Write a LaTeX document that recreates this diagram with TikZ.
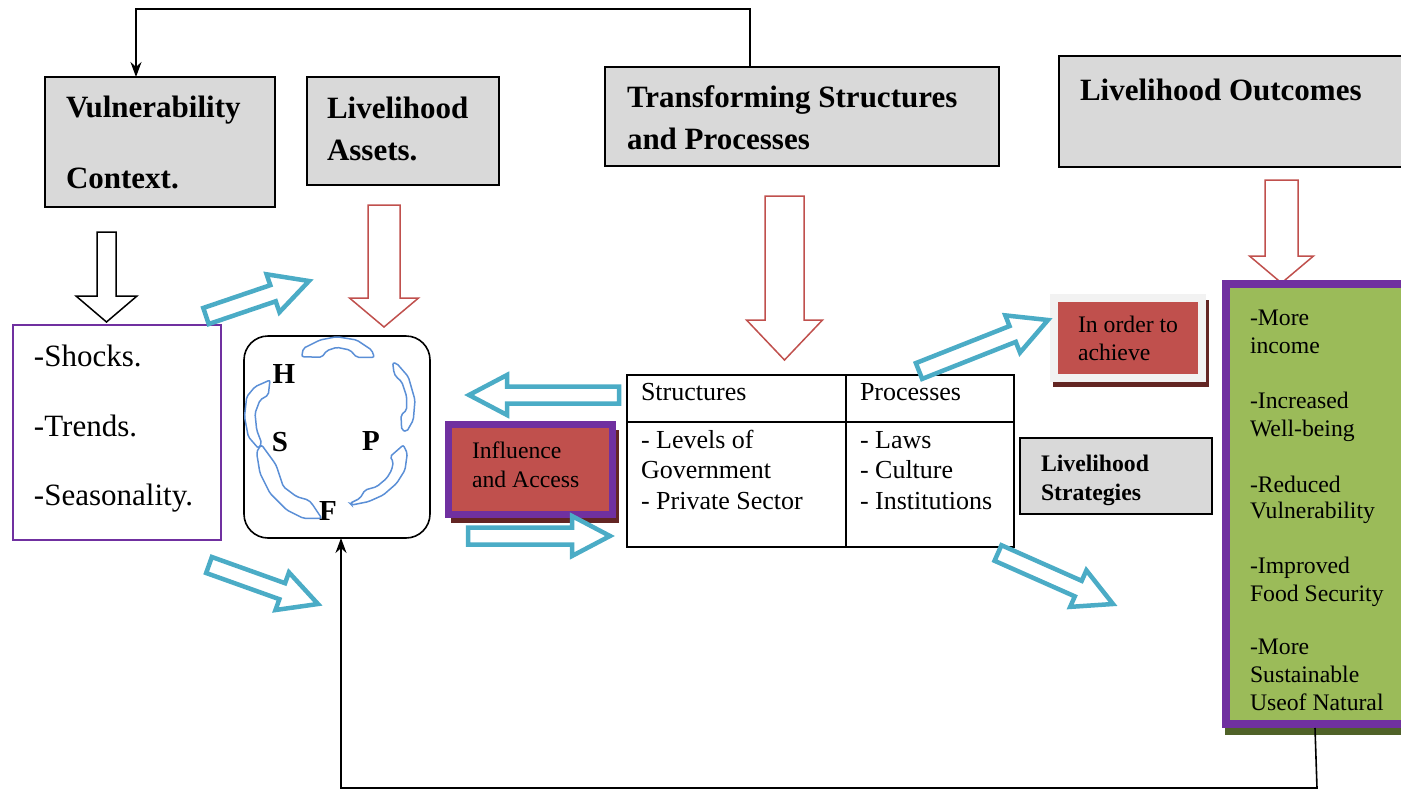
\documentclass[tikz,border=0pt]{standalone}
\usepackage{fontspec}
\setmainfont{Liberation Serif}
\usetikzlibrary{calc,arrows.meta}
\definecolor{boxgray}{HTML}{D9D9D9}
\definecolor{redarr}{HTML}{C0504D}
\definecolor{bluearr}{HTML}{4BACC6}
\definecolor{purp}{HTML}{7030A0}
\definecolor{redfill}{HTML}{C0504D}
\definecolor{shadred}{HTML}{632523}
\definecolor{greenfill}{HTML}{9BBB59}
\definecolor{shadgreen}{HTML}{4F6228}
\definecolor{lightgray}{HTML}{F2F2F2}
\definecolor{ringblue}{HTML}{5B8FD6}
\tikzset{
  every node/.style={outer sep=0pt},
  gbox/.style={draw=black, line width=1.6pt, fill=boxgray, inner sep=0pt, anchor=north west},
  hd/.style={font=\fontsize{31}{36}\selectfont\bfseries, inner sep=0pt, anchor=base west},
  big/.style={font=\fontsize{31}{36}\selectfont, inner sep=0pt, anchor=base west},
  mid/.style={font=\fontsize{26}{30}\selectfont, inner sep=0pt, anchor=base west},
  sml/.style={font=\fontsize{23.7}{28}\selectfont, inner sep=0pt, anchor=base west},
  smlb/.style={font=\fontsize{23.7}{28}\selectfont\bfseries, inner sep=0pt, anchor=base west},
  letter/.style={font=\fontsize{29}{32}\selectfont\bfseries, inner sep=0pt},
  barr/.style={draw=bluearr, line width=4.5pt, fill=white, line join=miter},
  rarr/.style={draw=redarr, line width=1.5pt, fill=white},
  karr/.style={draw=black, line width=1.5pt, fill=white},
  ring/.style={draw=ringblue, line width=1.5pt, rounded corners=2pt},
  fb/.style={draw=black, line width=1.6pt},
}
\newcommand{\barrow}[4]{%
  \pgfmathsetmacro\bang{atan2(-(#4-#2),#3-#1)}%
  \pgfmathsetmacro\blen{veclen(#3-#1,#4-#2)}%
  \begin{scope}[shift={(#1,#2)},rotate=\bang]
    \draw[barr] (0,-8.5) -- ({\blen-38},-8.5) -- ({\blen-38},-20) -- (\blen,0)
      -- ({\blen-38},20) -- ({\blen-38},8.5) -- (0,8.5) -- cycle;
  \end{scope}}
\newcommand{\varrow}[7]{%
  \draw[#1] ({#2-#4},#3) -- ({#2+#4},#3) -- ({#2+#4},#5) -- ({#2+#6},#5) -- (#2,#7)
    -- ({#2-#6},#5) -- ({#2-#4},#5) -- cycle;}
\begin{document}
\begin{tikzpicture}[x=1pt,y=-1pt]
\useasboundingbox (0,0) rectangle (1401,790);

% ---------- top boxes ----------
\node[gbox, minimum width=230pt, minimum height=130pt] (vc) at (45,77) {};
\node[hd] (vc1) at (66,117) {Vulnerability};
\node[hd] (vc2) at (66,188) {Context.};

\node[gbox, minimum width=192pt, minimum height=108pt] (la) at (307,77) {};
\node[hd] (la1) at (327,118) {Livelihood};
\node[hd] (la2) at (327,160) {Assets.};

\node[gbox, minimum width=394pt, minimum height=99pt] (tsp) at (605,67) {};
\node[hd] (tsp1) at (627,107) {Transforming Structures};
\node[hd] (tsp2) at (627,149) {and Processes};

\node[gbox, minimum width=360pt, minimum height=111pt] (lo) at (1059,56) {};
\node[hd] (lo1) at (1080,100) {Livelihood Outcomes};

% ---------- top feedback line ----------
\coordinate (fbtop) at (136,9);
\draw[fb, -{Stealth[length=15pt,width=11pt]}] ($(tsp.north west)+(145,0)$) |- (fbtop) -- ($(vc.north west)+(91,0)$);

% ---------- down arrows ----------
\varrow{karr}{106.5}{232}{9.5}{296}{30.5}{322}
\varrow{rarr}{384}{205}{16}{298}{34.5}{327}
\varrow{rarr}{784.5}{196}{19.5}{320}{38}{360}
\varrow{rarr}{1281.5}{180}{16.5}{256}{32}{283}

% ---------- shocks box ----------
\node[draw=purp, line width=1.5pt, fill=white, inner sep=0pt, anchor=north west,
      minimum width=208pt, minimum height=215pt] (sh) at (13,325) {};
\node[big] (sh1) at (34,366) {-Shocks.};
\node[big] (sh2) at (34,436) {-Trends.};
\node[big] (sh3) at (34,505) {-Seasonality.};

% ---------- assets box ----------
\node[draw=black, line width=1.6pt, rounded corners=24pt, inner sep=0pt, anchor=north west,
      minimum width=186pt, minimum height=202pt] (hspf) at (244,336) {};
\draw[ring] (301.7,356.7) -- (303.3,348.3) -- (320,340) -- (336.7,336.7) -- (356.7,340)
  -- (371.7,350) -- (374.3,357.3) -- (356.7,357.3) -- (350,350) -- (336.7,347.3)
  -- (326.7,350.7) -- (321.7,357.3) -- cycle;
\draw[ring] (392.7,362.7) -- (396.7,363.3) -- (408.3,376.7) -- (415,400) -- (413.3,420)
  -- (406.7,431.7) -- (401.7,430) -- (401,415) -- (406.7,410) -- (406.7,396.7)
  -- (401.7,381.7) -- (396,376.7) -- (394,373) -- cycle;
\draw[ring] (403.3,445) -- (407.3,453.3) -- (405,470) -- (396.7,483.3) -- (383.3,495)
  -- (368.3,501.7) -- (351.7,505) -- (350,503.3) -- (360,498.3) -- (365,490)
  -- (376.7,486.7) -- (386.7,478.3) -- (391.7,470) -- (393.3,461.7) -- (390,456.7) -- cycle;
\draw[ring] (270,380) -- (268.3,395) -- (260,400) -- (255,413.3) -- (256.7,430)
  -- (261.7,443.3) -- (258.3,448.3) -- (248.3,436.7) -- (244.5,416.7) -- (246.7,396.7)
  -- (255,386.7) -- cycle;
\draw[ring] (258.3,448.3) -- (261.7,445) -- (275,463.3) -- (276.7,466.7) -- (283.3,486.7)
  -- (296.7,496.7) -- (308.3,500) -- (311.7,503.3) -- (321.7,518.3) -- (303.3,518.3)
  -- (286.7,510) -- (270,493.3) -- (260,473.3) -- (256.7,453.3) -- cycle;
\node[letter] (lh) at (284,374) {H};
\node[letter] (ls) at (280,442) {S};
\node[letter] (lp) at (371,441) {P};
\node[letter] (lf) at (328,511) {F};

% ---------- influence box ----------
\fill[shadred] (451,430) rectangle (619,523);
\node[draw=purp, line width=7pt, fill=redfill, inner sep=0pt, anchor=north west,
      minimum width=164pt, minimum height=90pt] (ia) at (448,424) {};
\node[sml] (ia1) at (472,458) {Influence};
\node[sml] (ia2) at (472,487) {and Access};

% ---------- table ----------
\node[draw=black, line width=1.6pt, fill=white, inner sep=0pt, anchor=north west,
      minimum width=387pt, minimum height=172pt] (tbl) at (627,375) {};
\draw[line width=1.6pt] ($(tbl.north west)+(219,0)$) -- ($(tbl.south west)+(219,0)$);
\draw[line width=1.6pt] ($(tbl.north west)+(0,47)$) -- ($(tbl.north east)+(0,47)$);
\node[mid] (t1) at (641,400) {Structures};
\node[mid] (t2) at (860,400) {Processes};
\node[mid] (t3) at (641,448) {- Levels of};
\node[mid] (t4) at (641,478) {Government};
\node[mid] (t5) at (641,509) {- Private Sector};
\node[mid] (t6) at (860,448) {- Laws};
\node[mid] (t7) at (860,478) {- Culture};
\node[mid] (t8) at (860,509) {- Institutions};

% ---------- in order to achieve ----------
\fill[shadred] (1053,300) rectangle (1209,387);
\node[draw=lightgray, line width=8pt, fill=redfill, inner sep=0pt, anchor=north west,
      minimum width=148pt, minimum height=80pt] (ioa) at (1054,298) {};
\node[sml] (ioa1) at (1078,332) {In order to};
\node[sml] (ioa2) at (1078,360) {achieve};

% ---------- livelihood strategies ----------
\node[gbox, minimum width=192pt, minimum height=76pt] (ls2) at (1020,438) {};
\node[smlb] (ls21) at (1041,471) {Livelihood};
\node[smlb] (ls22) at (1041,500) {Strategies};

% ---------- outcomes list ----------
\fill[shadgreen] (1225,290) rectangle (1430,735);
\node[draw=purp, line width=8pt, fill=greenfill, inner sep=0pt, anchor=north west,
      minimum width=200pt, minimum height=440pt] (out) at (1226,284) {};
\node[sml] (o1) at (1250,325) {-More};
\node[sml] (o2) at (1250,353) {income};
\node[sml] (o3) at (1250,408) {-Increased};
\node[sml] (o4) at (1250,436) {Well-being};
\node[sml] (o5) at (1250,492) {-Reduced};
\node[sml] (o6) at (1250,518) {Vulnerability};
\node[sml] (o7) at (1250,573) {-Improved};
\node[sml] (o8) at (1250,601) {Food Security};
\node[sml] (o9) at (1250,654) {-More};
\node[sml] (o10) at (1250,682) {Sustainable};
\node[sml] (o11) at (1250,710) {Useof Natural};

% ---------- blue block arrows ----------
\barrow{206}{316}{309}{281}
\barrow{209}{565}{318}{604}
\barrow{619}{395}{469}{395}
\barrow{468}{536}{610}{536}
\barrow{919}{371}{1048}{320}
\barrow{998}{553}{1113}{604}

% ---------- bottom feedback line ----------
\coordinate (fbbot) at (1317,788);
\draw[fb, -{Stealth[length=15pt,width=11pt]}] ($(out.south west)+(89,4)$) -- (fbbot) -| ($(hspf.south west)+(97,0)$);

\end{tikzpicture}
\end{document}
